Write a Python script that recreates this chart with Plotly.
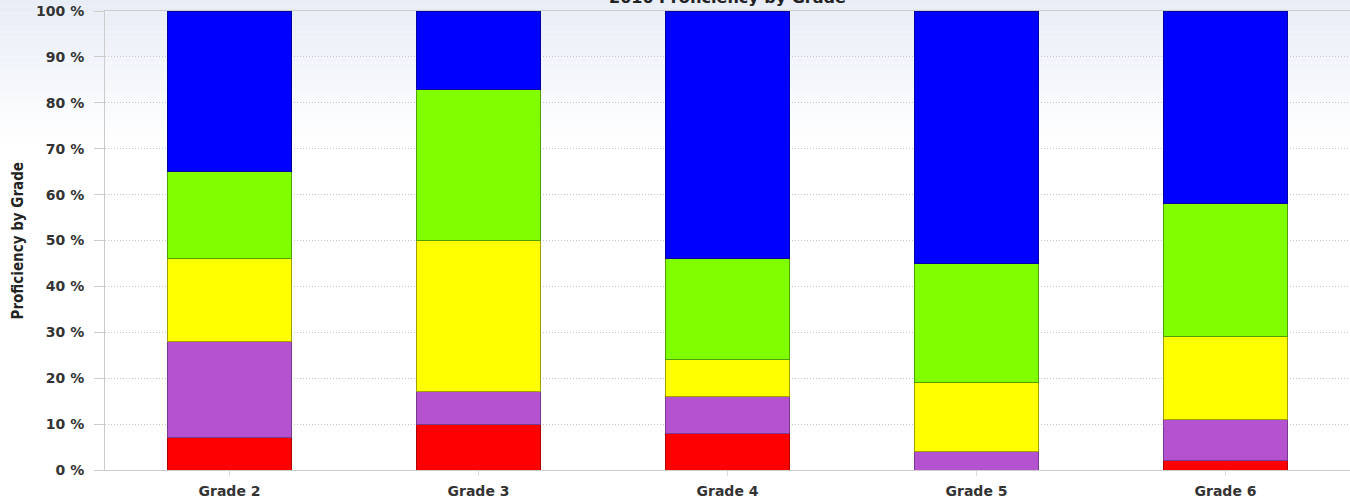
import plotly.graph_objects as go

# Proficiency share (%) per grade, stacked bottom to top
grades = ["Grade 2", "Grade 3", "Grade 4", "Grade 5", "Grade 6"]
level_1 = [7, 10, 8, 0, 2]      # red
level_2 = [21, 7, 8, 4, 9]      # purple
level_3 = [18, 33, 8, 15, 18]   # yellow
level_4 = [19, 33, 22, 26, 29]  # green
level_5 = [35, 17, 54, 55, 42]  # blue

series = [
    ("Level 1", level_1, "#ff0000", "#b00000"),
    ("Level 2", level_2, "#b452d0", "#7a3a90"),
    ("Level 3", level_3, "#ffff00", "#a0a000"),
    ("Level 4", level_4, "#7fff00", "#50a000"),
    ("Level 5", level_5, "#0000ff", "#0000a0"),
]

fig = go.Figure()
for name, vals, fill, edge in series:
    fig.add_trace(go.Bar(
        x=grades, y=vals, name=name,
        marker=dict(color=fill, line=dict(color=edge, width=1)),
    ))

W, H = 1350, 499
ML, MR, MT, MB = 105, 0, 11, 29
plot_w = W - ML - MR
plot_h = H - MT - MB

# soft blue-to-white wash at the top of the canvas
shapes = []
bands = 24
top_rgb = (232, 237, 246)
fade_px = 150
for i in range(bands):
    t = i / (bands - 1)
    r = round(top_rgb[0] + (255 - top_rgb[0]) * t)
    g = round(top_rgb[1] + (255 - top_rgb[1]) * t)
    b = round(top_rgb[2] + (255 - top_rgb[2]) * t)
    y0_px = i * fade_px / bands
    y1_px = (i + 1) * fade_px / bands
    shapes.append(dict(
        type="rect", xref="paper", yref="paper", layer="below",
        x0=-ML / plot_w, x1=1 + MR / plot_w + 0.01,
        y0=1 + (MT - y1_px) / plot_h, y1=1 + (MT - y0_px) / plot_h,
        fillcolor=f"rgb({r},{g},{b})", line=dict(width=0),
    ))

fig.update_layout(
    width=W, height=H,
    margin=dict(l=ML, r=MR, t=MT, b=MB, pad=0),
    barmode="stack", bargap=0.5,
    showlegend=False,
    paper_bgcolor="white",
    plot_bgcolor="rgba(0,0,0,0)",
    shapes=shapes,
    font=dict(family="DejaVu Sans", color="#333333"),
    annotations=[
        dict(text="<b>2010 Proficiency by Grade</b>", xref="paper", yref="paper",
             x=0.5, y=1 + (MT + 3) / plot_h, xanchor="center", yanchor="middle",
             showarrow=False, font=dict(family="DejaVu Sans", size=16, color="#222222")),
        dict(text="<b>Proficiency by Grade</b>", xref="paper", yref="paper",
             x=-(ML - 17) / plot_w, y=0.5, xanchor="center", yanchor="middle",
             textangle=-90, showarrow=False,
             font=dict(family="DejaVu Sans Condensed", size=15, color="#222222")),
    ],
)

fig.update_xaxes(
    showline=True, linecolor="#cccccc", linewidth=1, mirror=True,
    ticks="outside", ticklen=5, tickcolor="#dddddd",
    tickfont=dict(family="DejaVu Sans", size=14, color="#333333", weight="bold"),
    ticklabelstandoff=3,
    showgrid=False,
)
fig.update_yaxes(
    range=[0, 100], dtick=10, ticksuffix=" %",
    showline=True, linecolor="#cccccc", linewidth=1, mirror=True,
    ticks="outside", ticklen=10, tickcolor="#cccccc",
    tickfont=dict(family="DejaVu Sans", size=14, color="#333333", weight="bold"),
    ticklabelstandoff=7,
    showgrid=True, gridcolor="#c4c4c4", griddash="1px,2px", gridwidth=1,
    zeroline=False,
)

fig.write_html("out.html")
